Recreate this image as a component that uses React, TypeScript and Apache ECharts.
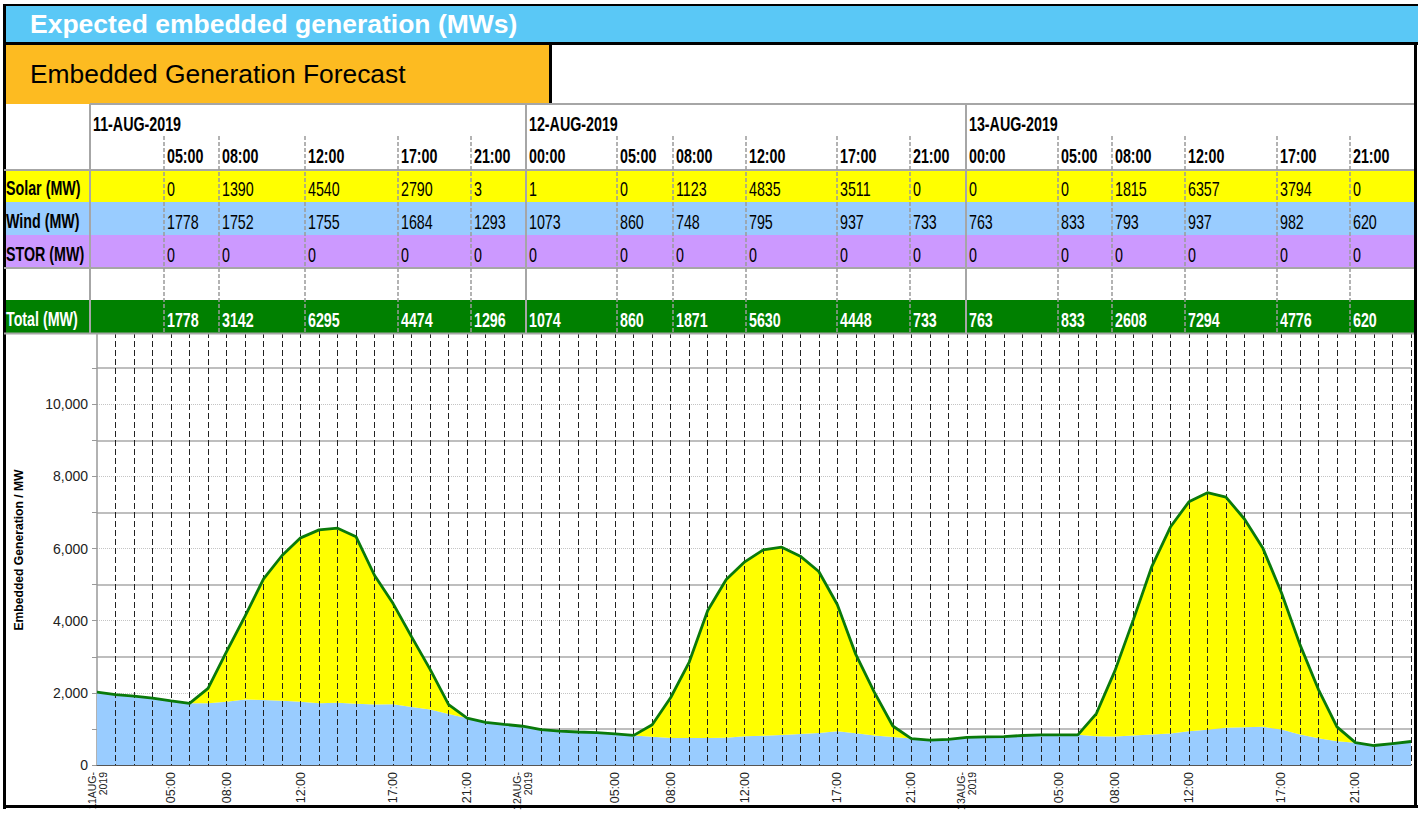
import React, { useEffect, useRef } from 'react';
import * as echarts from 'echarts';

// ---------- chart data (hourly points) ----------
const categories = [
  '11AUG-\n2019', '02:00', '03:00', '04:00', '05:00', '06:00', '07:00', '08:00', '09:00', '10:00', '11:00', '12:00',
  '13:00', '14:00', '15:00', '16:00', '17:00', '18:00', '19:00', '20:00', '21:00', '22:00', '23:00',
  '12AUG-\n2019', '01:00', '02:00', '03:00', '04:00', '05:00', '06:00', '07:00', '08:00', '09:00', '10:00', '11:00',
  '12:00', '13:00', '14:00', '15:00', '16:00', '17:00', '18:00', '19:00', '20:00', '21:00', '22:00', '23:00',
  '13AUG-\n2019', '01:00', '02:00', '03:00', '04:00', '05:00', '06:00', '07:00', '08:00', '09:00', '10:00', '11:00',
  '12:00', '13:00', '14:00', '15:00', '16:00', '17:00', '18:00', '19:00', '20:00', '21:00', '22:00', '23:00', '00:00',
];
const shownTimes = ['05:00', '08:00', '12:00', '17:00', '21:00'];

const windMW = [
  2020, 1948, 1911, 1855, 1778, 1708, 1708, 1752, 1818, 1800, 1781, 1755, 1708, 1726, 1698, 1680, 1684, 1606, 1541, 1412, 1293, 1181, 1126,
  1073, 978, 941, 914, 895, 860, 821, 785, 748, 748, 748, 757, 795, 812, 830, 858, 890, 937, 877, 821, 775, 733, 692, 711,
  763, 780, 789, 817, 835, 833, 835, 798, 793, 817, 845, 872, 937, 974, 1029, 1048, 1057, 982, 845, 743, 660, 620, 540, 595, 651,
];
const solarMW = [
  0, 0, 0, 0, 0, 0, 415, 1390, 2308, 3360, 4025, 4540, 4808, 4836, 4625, 3572, 2790, 1944, 1108, 259, 3, 0, 0,
  1, 0, 0, 0, 0, 0, 0, 332, 1123, 2104, 3535, 4384, 4835, 5151, 5206, 4929, 4473, 3511, 2187, 1200, 305, 0, 0, 0,
  0, 0, 0, 0, 0, 0, 0, 628, 1815, 3212, 4662, 5723, 6357, 6572, 6397, 5769, 4947, 3794, 2491, 1347, 397, 0, 0, 0, 0,
];
const yTicks = [0, 2000, 4000, 6000, 8000, 10000];

// ---------- table data ----------
const tableDates = ['11-AUG-2019', '12-AUG-2019', '13-AUG-2019'];
const tableTimes = ['05:00', '08:00', '12:00', '17:00', '21:00', '00:00', '05:00', '08:00', '12:00', '17:00', '21:00', '00:00', '05:00', '08:00', '12:00', '17:00', '21:00'];
const solarTable = [0, 1390, 4540, 2790, 3, 1, 0, 1123, 4835, 3511, 0, 0, 0, 1815, 6357, 3794, 0];
const windTable = [1778, 1752, 1755, 1684, 1293, 1073, 860, 748, 795, 937, 733, 763, 833, 793, 937, 982, 620];
const storTable = [0, 0, 0, 0, 0, 0, 0, 0, 0, 0, 0, 0, 0, 0, 0, 0, 0];
const totalTable = [1778, 3142, 6295, 4474, 1296, 1074, 860, 1871, 5630, 4448, 733, 763, 833, 2608, 7294, 4776, 620];

// ---------- layout ----------
const dayStartX = [90, 526, 966];
const colStartX = [164, 219, 305, 398, 471, 526, 617, 673, 746, 837, 910, 966, 1058, 1112, 1185, 1277, 1350];
const FONT = '"Liberation Sans", Arial, sans-serif';
const SX = 0.68;

function buildGraphic() {
  const g: any[] = [];
  const rect = (x: number, y: number, w: number, h: number, fill: string) =>
    g.push({ type: 'rect', silent: true, z: 100, shape: { x, y, width: w, height: h }, style: { fill } });
  const line = (x1: number, y1: number, x2: number, y2: number, stroke: string, lw: number, dash?: number[]) =>
    g.push({ type: 'line', silent: true, z: 101, shape: { x1, y1, x2, y2 }, style: { stroke, lineWidth: lw, lineDash: dash } });
  const text = (x: number, y: number, t: string, font: string, fill: string, sx = 1, rotation = 0, align = 'left') =>
    g.push({ type: 'text', silent: true, z: 102, x, y, scaleX: sx, rotation, style: { text: t, font, fill, align, verticalAlign: 'middle' } });

  // header bands
  rect(4, 5, 1414, 37, '#5ac8f6');
  rect(4, 42, 1414, 3, '#000000');
  rect(4, 45, 545, 59, '#fdbb21');
  rect(549, 45, 3, 59, '#000000');
  text(30, 24, 'Expected embedded generation (MWs)', `bold 26.5px ${FONT}`, '#ffffff');
  text(30, 74, 'Embedded Generation Forecast', `26.4px ${FONT}`, '#000000');

  // table rows
  const rows = [
    { label: 'Solar (MW)', values: solarTable, y: 170, h: 32, fill: '#ffff00', color: '#000000', bold: false },
    { label: 'Wind (MW)', values: windTable, y: 202, h: 33, fill: '#99ccff', color: '#000000', bold: false },
    { label: 'STOR (MW)', values: storTable, y: 235, h: 33, fill: '#cc99ff', color: '#000000', bold: false },
    { label: 'Total (MW)', values: totalTable, y: 300, h: 33, fill: '#008000', color: '#ffffff', bold: true },
  ];
  rows.forEach((r) => rect(4, r.y, 1410, r.h, r.fill));

  // grid lines of table
  const gray = '#a6a6a6';
  line(90, 104, 1414, 104, gray, 2);
  line(4, 170, 1414, 170, gray, 2);
  line(4, 268, 1414, 268, gray, 2);
  line(4, 333.5, 1414, 333.5, gray, 2);
  dayStartX.forEach((x) => line(x, 104, x, 334, gray, 2));
  colStartX.forEach((x) => {
    if (dayStartX.indexOf(x) < 0) line(x, 136, x, 333, '#9a9a9a', 1.5, [4, 2]);
  });

  // header texts
  tableDates.forEach((d, i) => text(dayStartX[i] + 3, 124, d, `bold 21px ${FONT}`, '#000000', SX));
  tableTimes.forEach((t, i) => text(colStartX[i] + 3, 156, t, `bold 21px ${FONT}`, '#000000', SX));

  rows.forEach((r) => {
    const cy = r.y + r.h / 2 + 3;
    text(6, cy - 1, r.label, `bold 21px ${FONT}`, r.color, SX);
    r.values.forEach((v, i) =>
      text(colStartX[i] + 3, cy, String(v), `${r.bold ? 'bold ' : ''}21px ${FONT}`, r.color, SX)
    );
  });

  // y axis title
  text(18, 550, 'Embedded Generation / MW', `bold 13.5px ${FONT}`, '#000000', 0.9, Math.PI / 2, 'center');

  // outer frame
  rect(3, 4, 1415, 2, '#000000');
  rect(3, 4, 3, 805, '#000000');
  rect(3, 805, 1415, 3, '#000000');
  rect(1414, 42, 3, 766, '#000000');
  return g;
}

export default function App() {
  const ref = useRef<HTMLDivElement>(null);
  useEffect(() => {
    if (!ref.current) return;
    const chart = echarts.init(ref.current, undefined, { renderer: 'svg' });
    const total = windMW.map((w, i) => w + solarMW[i]);
    chart.setOption({
      animation: false,
      backgroundColor: '#ffffff',
      textStyle: { fontFamily: FONT },
      grid: { left: 97, right: 7, top: 332, bottom: 51, outerBoundsMode: 'none', containLabel: false },
      xAxis: {
        type: 'category',
        data: categories,
        boundaryGap: false,
        z: 10,
        axisLine: { show: true, lineStyle: { color: '#555555', width: 1 } },
        axisTick: { show: false },
        axisLabel: {
          interval: (idx: number, val: string) => val.indexOf('AUG') >= 0 || shownTimes.indexOf(val) >= 0,
          formatter: (val: string) =>
            val.indexOf('AUG') >= 0 ? val.split('\n').map((s) => `{d|${s}}`).join('\n') : val,
          rich: { d: { fontSize: 10.5, lineHeight: 11, color: '#222222' } },
          rotate: 90,
          fontSize: 12.5,
          lineHeight: 12,
          color: '#222222',
          margin: 7,
        },
        splitLine: { show: true, interval: 0, showMinLine: false, lineStyle: { color: '#222222', type: [6, 3], width: 1 } },
      },
      yAxis: {
        type: 'value',
        min: 0,
        max: 12000,
        interval: 2000,
        axisLine: { show: true, lineStyle: { color: '#999999', width: 1.5 } },
        axisTick: { show: true, length: 5, lineStyle: { color: '#999999' } },
        minorTick: { show: true, splitNumber: 2, length: 5, lineStyle: { color: '#999999' } },
        axisLabel: {
          formatter: (v: number) => (yTicks.indexOf(v) >= 0 ? v.toLocaleString('en-US') : ''),
          fontSize: 14,
          color: '#222222',
          margin: 9,
        },
        splitLine: { show: true, lineStyle: { color: '#c4c4c4', type: 'dotted', width: 1 } },
        minorSplitLine: { show: true, lineStyle: { color: '#a8a8a8', width: 1.5 } },
      },
      series: [
        {
          name: 'Wind', type: 'line', stack: 'gen', data: windMW, symbol: 'none', z: 2,
          lineStyle: { width: 0 }, areaStyle: { color: '#99ccff', opacity: 1 },
        },
        {
          name: 'Solar', type: 'line', stack: 'gen', data: solarMW, symbol: 'none', z: 2,
          lineStyle: { width: 0 }, areaStyle: { color: '#ffff00', opacity: 1 },
        },
        {
          name: 'Total', type: 'line', data: total, symbol: 'none', z: 20,
          lineStyle: { width: 2.8, color: '#0a7a0a' },
        },
      ],
      graphic: buildGraphic(),
    });
    return () => chart.dispose();
  }, []);
  return <div ref={ref} style={{ position: 'absolute', left: 0, top: 0, width: 1418, height: 816 }} />;
}
